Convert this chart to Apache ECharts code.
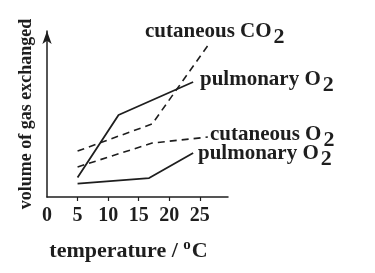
<!DOCTYPE html>
<html><head><meta charset="utf-8">
<script src="https://cdn.jsdelivr.net/npm/echarts@6/dist/echarts.min.js"></script>
<style>html,body{margin:0;padding:0;background:#fff}#c{width:375px;height:273px}</style>
</head><body><div id="c"></div>
<script>
// data (arbitrary units of gas exchanged vs temperature)
const pulmonaryUpperT = [5, 11.7, 23.9];
const pulmonaryUpperV = [11.7, 49.4, 69.3];
const pulmonaryLowerT = [5, 16.7, 23.9];
const pulmonaryLowerV = [8.1, 11.4, 26.5];
const cutaneousCO2T = [5, 17.2, 26.6];
const cutaneousCO2V = [27.7, 44.0, 92.8];
const cutaneousO2T = [5, 17.2, 26.3];
const cutaneousO2V = [18.1, 32.5, 36.1];
const xTickLabels = [0, 5, 10, 15, 20, 25];
const xTicks = [5, 10, 15, 20, 25];

const pairs = (t, v) => t.map((x, i) => [x, v[i]]);
const FONT = '"Liberation Serif", "DejaVu Serif", serif';
const INK = '#1e1e1e';

const solid = { color: INK, width: 1.8, type: 'solid' };
const dashed = { color: INK, width: 1.6, type: [7, 5] };

function lbl(main, x, y) {
  return {
    type: 'text', left: x, top: y,
    style: {
      text: '{m|' + main + '}{s|2}',
      rich: {
        m: { fontFamily: FONT, fontWeight: 'bold', fontSize: 21, fill: INK, verticalAlign: 'top', lineHeight: 23 },
        s: { fontFamily: FONT, fontWeight: 'bold', fontSize: 22, fill: INK, verticalAlign: 'top', lineHeight: 23, padding: [5, 0, 0, 2] }
      }
    }
  };
}

const chart = echarts.init(document.getElementById('c'), null, { renderer: 'canvas' });
chart.setOption({
  animation: false,
  backgroundColor: '#fff',
  grid: { left: 47, right: 147, top: 31, bottom: 76, containLabel: false },
  xAxis: {
    type: 'value', min: 0, max: 29.6,
    name: '{a|temperature / }{o|o}{a|C}',
    nameLocation: 'middle', nameGap: 41,
    nameTextStyle: {
      padding: [0, 18, 0, 0],
      rich: {
        a: { fontFamily: FONT, fontWeight: 'bold', fontSize: 22, color: INK, verticalAlign: 'bottom', lineHeight: 24 },
        o: { fontFamily: FONT, fontWeight: 'bold', fontSize: 15, color: INK, verticalAlign: 'top', lineHeight: 24, padding: [0, 1, 8, 0] }
      }
    },
    axisLine: { show: true, lineStyle: { color: INK, width: 1.5 } },
    axisTick: { show: true, length: 4, customValues: xTicks, lineStyle: { color: INK, width: 1.2 } },
    axisLabel: { customValues: xTickLabels, margin: 9, fontFamily: FONT, fontWeight: 'bold', fontSize: 20, color: INK },
    splitLine: { show: false }
  },
  yAxis: {
    type: 'value', min: 0, max: 100,
    name: 'volume of gas exchanged',
    nameLocation: 'middle', nameGap: 12,
    nameTextStyle: { fontFamily: FONT, fontWeight: 'bold', fontSize: 18, color: INK },
    axisLine: { show: true, symbol: ['none', 'arrow'], symbolSize: [7, 13], lineStyle: { color: INK, width: 1.5 } },
    axisTick: { show: false }, axisLabel: { show: false }, splitLine: { show: false }
  },
  series: [
    { type: 'line', data: pairs(pulmonaryUpperT, pulmonaryUpperV), symbol: 'none', lineStyle: solid },
    { type: 'line', data: pairs(pulmonaryLowerT, pulmonaryLowerV), symbol: 'none', lineStyle: solid },
    { type: 'line', data: pairs(cutaneousCO2T, cutaneousCO2V), symbol: 'none', lineStyle: dashed },
    { type: 'line', data: pairs(cutaneousO2T, cutaneousO2V), symbol: 'none', lineStyle: dashed }
  ],
  graphic: [
    lbl('cutaneous CO', 145, 21),
    lbl('pulmonary O', 200, 69),
    lbl('cutaneous O', 210, 124),
    lbl('pulmonary O', 198, 143)
  ]
});
</script></body></html>
